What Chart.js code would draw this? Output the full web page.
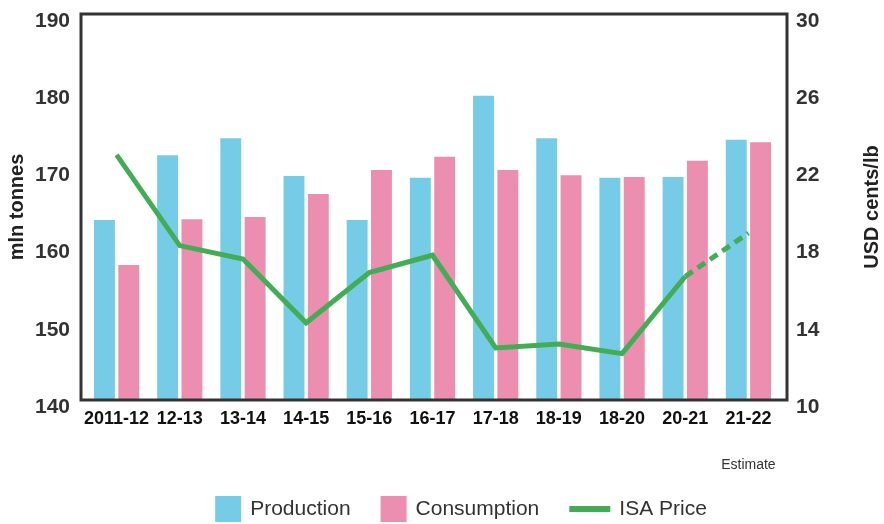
<!DOCTYPE html>
<html>
<head>
<meta charset="utf-8">
<script src="https://cdn.jsdelivr.net/npm/chart.js@4.4.0/dist/chart.umd.min.js"></script>
<style>
  html, body { margin: 0; padding: 0; background: #ffffff; }
  #wrap { width: 884px; height: 524px; }
</style>
</head>
<body>
<div id="wrap"><canvas id="chart" width="884" height="524"></canvas></div>
<script>
const seasons = ["2011-12", "12-13", "13-14", "14-15", "15-16", "16-17", "17-18", "18-19", "18-20", "20-21", "21-22"];
const production = [163.3, 171.7, 173.9, 169.0, 163.3, 168.8, 179.4, 173.9, 168.8, 168.9, 173.7];
const consumption = [157.5, 163.4, 163.7, 166.7, 169.8, 171.5, 169.8, 169.1, 168.9, 171.0, 173.4];
const isaPrice = [22.7, 18.0, 17.3, 14.0, 16.6, 17.5, 12.7, 12.9, 12.4, 16.4, 18.65];
const leftTicks = [140, 150, 160, 170, 180, 190];
const rightTicks = [10, 14, 18, 22, 26, 30];
const estimateIndex = seasons.length - 1; // last season is an estimate

const FONT = "'Liberation Sans', Arial, sans-serif";
const DARK = "#333333";

// no extra room for the end labels, the plot box is fixed
const noEndPadding = scale => {
  scale.paddingTop = 0;
  scale.paddingBottom = 0;
};

// frame, axis titles, estimate note and legend
const decorations = {
  id: "decorations",
  afterDraw(chart) {
    const { ctx, chartArea } = chart;
    ctx.save();

    // box round the plot
    ctx.strokeStyle = DARK;
    ctx.lineWidth = 3;
    ctx.strokeRect(chartArea.left - 4, chartArea.top, chartArea.right - chartArea.left + 11, chartArea.bottom - chartArea.top);

    // axis titles, both read bottom to top
    const midY = (chartArea.top + chartArea.bottom) / 2;
    ctx.fillStyle = "#222222";
    ctx.font = "bold 20px " + FONT;
    ctx.textAlign = "center";
    ctx.textBaseline = "middle";
    [[17, "mln tonnes"], [872, "USD cents/lb"]].forEach(([x, text]) => {
      ctx.save();
      ctx.translate(x, midY);
      ctx.rotate(-Math.PI / 2);
      ctx.fillText(text, 0, 0);
      ctx.restore();
    });

    // "Estimate" under the last season
    const xScale = chart.scales.x;
    ctx.font = "14px " + FONT;
    ctx.fillStyle = DARK;
    ctx.fillText("Estimate", xScale.getPixelForValue(estimateIndex), 465);

    // legend
    ctx.font = "21px " + FONT;
    ctx.textAlign = "left";
    const items = chart.data.datasets.map(ds => ({
      label: ds.label,
      color: ds.type === "line" ? ds.borderColor : ds.backgroundColor,
      line: ds.type === "line",
      markW: ds.type === "line" ? 41 : 26,
    }));
    const gapText = 9, gapItem = 30;
    let total = 0;
    items.forEach((it, i) => {
      it.textW = ctx.measureText(it.label).width;
      total += it.markW + gapText + it.textW + (i < items.length - 1 ? gapItem : 0);
    });
    let x = 461 - total / 2;
    const ly = 509;
    items.forEach(it => {
      ctx.fillStyle = it.color;
      if (it.line) {
        ctx.fillRect(x, ly - 3, it.markW, 6);
      } else {
        ctx.fillRect(x, ly - 13, it.markW, 26);
      }
      x += it.markW + gapText;
      ctx.fillStyle = DARK;
      ctx.fillText(it.label, x, ly);
      x += it.textW + gapItem;
    });

    ctx.restore();
  }
};

new Chart(document.getElementById("chart"), {
  data: {
    labels: seasons,
    datasets: [
      {
        type: "bar",
        label: "Production",
        data: production,
        yAxisID: "y",
        backgroundColor: "#76cce7",
        barPercentage: 0.86,
        categoryPercentage: 0.77,
        order: 1,
      },
      {
        type: "bar",
        label: "Consumption",
        data: consumption,
        yAxisID: "y",
        backgroundColor: "#eb8eb0",
        barPercentage: 0.86,
        categoryPercentage: 0.77,
        order: 1,
      },
      {
        type: "line",
        label: "ISA Price",
        data: isaPrice,
        yAxisID: "y1",
        borderColor: "#42ad55",
        backgroundColor: "#42ad55",
        borderWidth: 5,
        pointRadius: 0,
        tension: 0,
        order: 0,
        segment: {
          borderDash: ctx => (ctx.p1DataIndex === estimateIndex ? [9, 6] : undefined),
        },
      },
    ],
  },
  options: {
    responsive: false,
    animation: false,
    layout: { padding: { top: 14, left: 0, right: 0, bottom: 0 } },
    plugins: {
      legend: { display: false },
      tooltip: { enabled: false },
    },
    scales: {
      x: {
        grid: { display: false, drawTicks: false },
        border: { display: false },
        ticks: {
          color: "#111111",
          font: { family: FONT, size: 18, weight: "bold" },
          padding: 8,
          maxRotation: 0,
          autoSkip: false,
        },
        afterFit: scale => {
          scale.height = 124;
          scale.paddingLeft = 0;
          scale.paddingRight = 0;
        },
      },
      y: {
        position: "left",
        min: 140,
        max: 190,
        grid: { display: false, drawTicks: false },
        border: { display: false },
        afterBuildTicks: scale => { scale.ticks = leftTicks.map(v => ({ value: v })); },
        ticks: {
          color: DARK,
          font: { family: FONT, size: 21, weight: "bold" },
          padding: 15,
          labelOffset: 7,
        },
        afterFit: scale => {
          scale.width = 85;
          noEndPadding(scale);
        },
      },
      y1: {
        position: "right",
        min: 10,
        max: 30,
        grid: { display: false, drawTicks: false },
        border: { display: false },
        afterBuildTicks: scale => { scale.ticks = rightTicks.map(v => ({ value: v })); },
        ticks: {
          color: DARK,
          font: { family: FONT, size: 21, weight: "bold" },
          padding: 16,
          labelOffset: 7,
        },
        afterFit: scale => {
          scale.width = 104;
          noEndPadding(scale);
        },
      },
    },
  },
  plugins: [decorations],
});
</script>
</body>
</html>
